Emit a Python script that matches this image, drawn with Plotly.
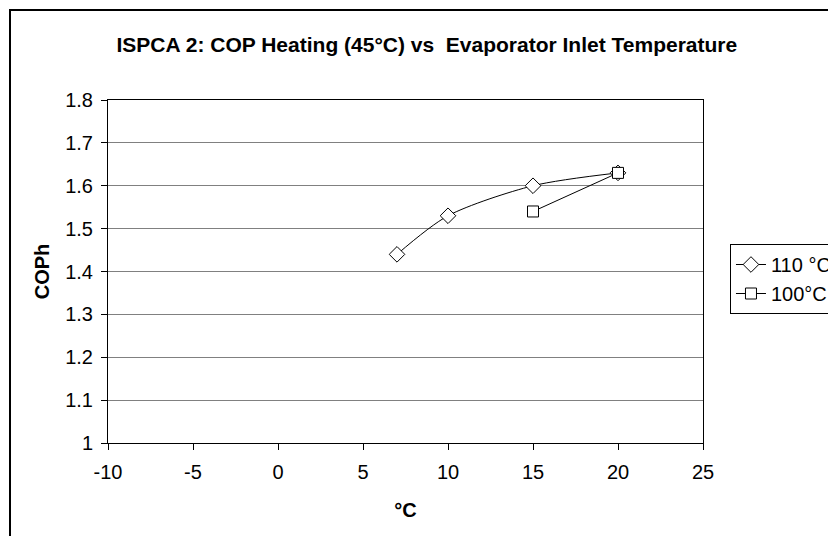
"""ISPCA 2 COP heating chart."""

import plotly.graph_objects as go

# data
t_110 = [7, 10, 15, 20]
cop_110 = [1.44, 1.53, 1.60, 1.63]
t_100 = [15, 20]
cop_100 = [1.54, 1.63]

x_ticks = [-10, -5, 0, 5, 10, 15, 20, 25]
x_tick_labels = ["-10", "-5", "0", "5", "10", "15", "20", "25"]

FONT = "Liberation Sans, Arial, sans-serif"

fig = go.Figure()
fig.add_trace(
    go.Scatter(
        x=t_110,
        y=cop_110,
        mode="lines+markers",
        name="110 °C",
        line=dict(color="black", width=1, shape="spline", smoothing=0.8),
        marker=dict(symbol="diamond", size=12, color="white", line=dict(color="black", width=1)),
    )
)
fig.add_trace(
    go.Scatter(
        x=t_100,
        y=cop_100,
        mode="lines+markers",
        name="100°C",
        line=dict(color="black", width=1),
        marker=dict(symbol="square", size=11, color="white", line=dict(color="black", width=1)),
    )
)

# outer chart border
fig.add_shape(
    type="rect", xref="paper", yref="paper",
    x0=-0.1647, x1=1.3, y0=-0.4, y1=1.2624,
    line=dict(color="black", width=2), fillcolor="rgba(0,0,0,0)", layer="below",
)

fig.update_layout(
    width=836,
    height=536,
    margin=dict(l=100, r=141, t=92, b=101),
    paper_bgcolor="white",
    plot_bgcolor="white",
    font=dict(family=FONT, size=20, color="black"),
    title=dict(
        text="<b>ISPCA 2: COP Heating (45°C) vs  Evaporator Inlet Temperature</b>",
        x=0.501, xanchor="center", y=0.931, yanchor="middle",
        font=dict(size=21, family=FONT, color="black"),
    ),
    legend=dict(
        xref="container", yref="container",
        x=0.8636, xanchor="left", y=0.5597, yanchor="top",
        bordercolor="black", borderwidth=1, bgcolor="white",
        font=dict(size=20, family=FONT), itemwidth=30, tracegroupgap=0,
    ),
    showlegend=True,
)
fig.update_xaxes(
    range=[-10, 25], tickvals=x_ticks, ticktext=x_tick_labels,
    showgrid=False, zeroline=False,
    showline=True, linecolor="black", linewidth=1, mirror=True,
    ticks="outside", ticklen=6, tickcolor="black", tickfont=dict(size=20),
    ticklabelstandoff=5,
    title=dict(text="<b>°C</b>", font=dict(size=20), standoff=20),
)
fig.update_yaxes(
    range=[1, 1.8], dtick=0.1, showgrid=True, gridcolor="#808080", gridwidth=1,
    zeroline=False, showline=True, linecolor="black", linewidth=1, mirror=True,
    ticks="outside", ticklen=6, tickcolor="black", tickfont=dict(size=20),
    ticklabelstandoff=4,
    title=dict(text="<b>COPh</b>", font=dict(size=20), standoff=10),
)

fig.write_html("out.html")
